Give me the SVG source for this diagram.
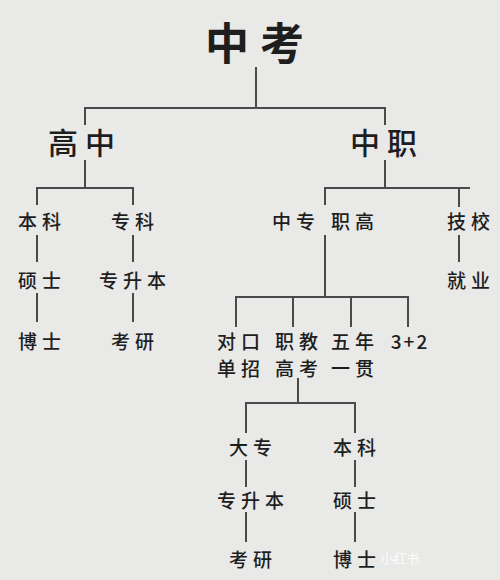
<svg xmlns="http://www.w3.org/2000/svg" width="500" height="580" viewBox="0 0 500 580">
<style>
text{font-family:"Noto Sans CJK SC","Noto Sans",sans-serif;fill:#1e1e1e;text-anchor:middle;dominant-baseline:central}
.t0{font-size:44px;font-weight:700;letter-spacing:11px}
.t1{font-size:30px;font-weight:500;letter-spacing:7px}
.t2{font-size:19px;font-weight:500;letter-spacing:5px}
.num{letter-spacing:2px}
.wm{font-size:13px;fill:#ffffff;fill-opacity:0.9;letter-spacing:0;font-weight:400}
#connectors path{fill:none;stroke:#4a4a4a;stroke-width:2}
</style>
<rect width="500" height="580" fill="#e9e9e8"/>
<g id="connectors">
<path d="M256 67V108M85 125V108H385V125"/>
<path d="M85 160V188M37 205V188H133V205"/>
<path d="M385 160V188M325 205V188H470M459 188V207"/>
<path d="M37 235V262M37 293V322"/>
<path d="M133 235V262M133 293V322"/>
<path d="M459 235V262"/>
<path d="M325 235V297M236 327V297H408V327M293 297V327M351 297V327"/>
<path d="M298 378V403M246 433V403H355V433"/>
<path d="M246 460V487M246 512V542"/>
<path d="M355 460V487M355 512V542"/>
</g>
<g id="n-zhongkao"><text class="t0" x="260" y="41">中考</text></g>
<g id="n-gaozhong"><text class="t1" x="85" y="141">高中</text></g>
<g id="n-zhongzhi"><text class="t1" x="387" y="141">中职</text></g>
<g id="n-benke1"><text class="t2" x="42" y="220">本科</text></g>
<g id="n-shuoshi1"><text class="t2" x="42" y="279">硕士</text></g>
<g id="n-boshi1"><text class="t2" x="42" y="340">博士</text></g>
<g id="n-zhuanke"><text class="t2" x="135" y="220">专科</text></g>
<g id="n-zhuanshengben1"><text class="t2" x="135" y="279">专升本</text></g>
<g id="n-kaoyan1"><text class="t2" x="135" y="340">考研</text></g>
<g id="n-zhongzhuan"><text class="t2" y="220"><tspan x="296">中专</tspan><tspan x="355">职高</tspan></text></g>
<g id="n-jixiao"><text class="t2" x="471" y="220">技校</text></g>
<g id="n-jiuye"><text class="t2" x="471" y="279">就业</text></g>
<g id="n-duikou"><text class="t2" x="241" y="340">对口</text><text class="t2" x="241" y="367">单招</text></g>
<g id="n-zhijiao"><text class="t2" x="299" y="340">职教</text><text class="t2" x="299" y="367">高考</text></g>
<g id="n-wunian"><text class="t2" x="355" y="340">五年</text><text class="t2" x="355" y="367">一贯</text></g>
<g id="n-32"><text class="t2 num" x="410" y="340">3+2</text></g>
<g id="n-dazhuan"><text class="t2" x="253" y="446">大专</text></g>
<g id="n-zhuanshengben2"><text class="t2" x="253" y="499">专升本</text></g>
<g id="n-kaoyan2"><text class="t2" x="253" y="558">考研</text></g>
<g id="n-benke2"><text class="t2" x="357" y="446">本科</text></g>
<g id="n-shuoshi2"><text class="t2" x="357" y="499">硕士</text></g>
<g id="n-boshi2"><text class="t2" x="357" y="558">博士</text></g>
<text class="wm" x="400" y="557">小红书</text>
</svg>
